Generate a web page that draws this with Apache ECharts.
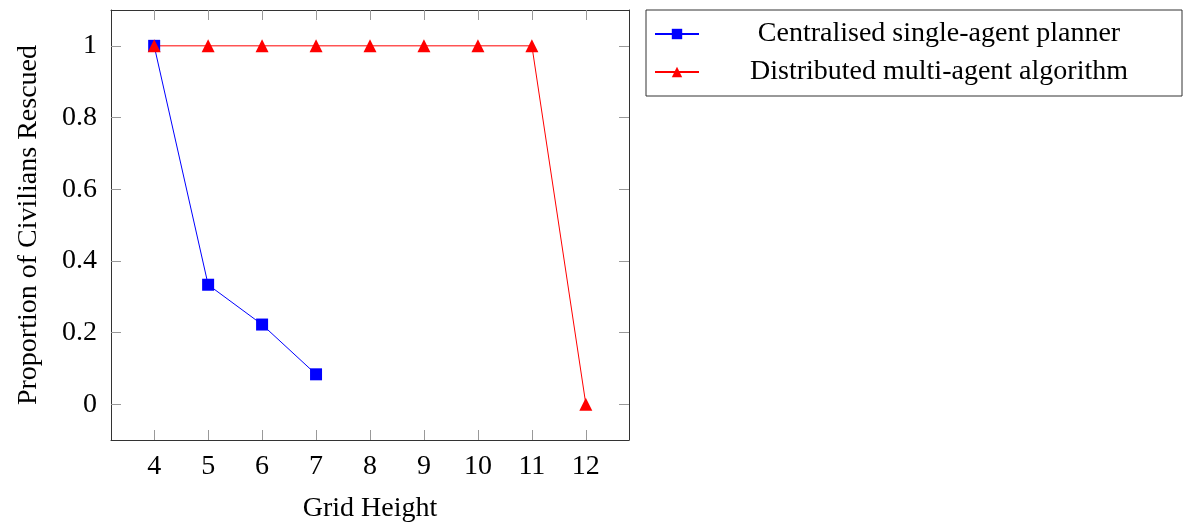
<!DOCTYPE html>
<html>
<head>
<meta charset="utf-8">
<script src="https://cdn.jsdelivr.net/npm/echarts@6/dist/echarts.min.js"></script>
<style>html,body{margin:0;padding:0;background:#fff;}#c{width:1185px;height:523px;}</style>
</head>
<body>
<div id="c"></div>
<script>
const gridHeights = [4, 5, 6, 7, 8, 9, 10, 11, 12];
const centralisedX = [4, 5, 6, 7];
const centralisedY = [1, 0.3333, 0.2222, 0.0833];
const distributedX = [4, 5, 6, 7, 8, 9, 10, 11, 12];
const distributedY = [1, 1, 1, 1, 1, 1, 1, 1, 0];
const yTicks = [0, 0.2, 0.4, 0.6, 0.8, 1];
const seriesNames = ['Centralised single-agent planner', 'Distributed multi-agent algorithm'];
const xTitle = 'Grid Height';
const yTitle = 'Proportion of Civilians Rescued';

const FONT = 'Liberation Serif';
const pair = (xs, ys) => xs.map((x, i) => [x, ys[i]]);
const frame = { show: true, onZero: false, lineStyle: { color: '#333', width: 1 } };
const tick = (show) => ({ show: true, inside: true, length: 10, customValues: show, lineStyle: { color: '#999', width: 1 } });

const chart = echarts.init(document.getElementById('c'), null, { renderer: 'canvas' });
chart.setOption({
  animation: false,
  backgroundColor: '#fff',
  grid: { left: 111, top: 10, right: 556, bottom: 83, containLabel: false, outerBoundsMode: 'none' },
  legend: {
    left: 646, top: 10,
    orient: 'vertical',
    data: seriesNames,
    itemWidth: 44, itemHeight: 13, itemGap: 10,
    padding: [10, 8, 10, 8],
    borderColor: '#333', borderWidth: 1, borderRadius: 0,
    formatter: n => '{c|' + n + '}',
    textStyle: { fontFamily: FONT, fontSize: 28, color: '#000',
      rich: { c: { fontFamily: FONT, fontSize: 28, color: '#000', width: 470, align: 'center', lineHeight: 30 } } }
  },
  xAxis: [
    { type: 'value', min: 3.2, max: 12.8, position: 'bottom',
      name: xTitle, nameLocation: 'middle', nameGap: 55,
      nameTextStyle: { fontFamily: FONT, fontSize: 28, color: '#000' },
      axisLine: frame, axisTick: tick(gridHeights), splitLine: { show: false },
      axisLabel: { customValues: gridHeights, fontFamily: FONT, fontSize: 28, color: '#000', margin: 13 } },
    { type: 'value', min: 3.2, max: 12.8, position: 'top',
      axisLine: frame, axisTick: tick(gridHeights), splitLine: { show: false },
      axisLabel: { show: false } }
  ],
  yAxis: [
    { type: 'value', min: -0.1, max: 1.1, position: 'left',
      name: yTitle, nameLocation: 'middle', nameGap: 68, nameRotate: 90,
      nameTextStyle: { fontFamily: FONT, fontSize: 28, color: '#000' },
      axisLine: frame, axisTick: tick(yTicks), splitLine: { show: false },
      axisLabel: { customValues: yTicks, fontFamily: FONT, fontSize: 28, color: '#000', margin: 14,
        formatter: v => String(Math.round(v * 10) / 10) } },
    { type: 'value', min: -0.1, max: 1.1, position: 'right',
      axisLine: frame, axisTick: tick(yTicks), splitLine: { show: false },
      axisLabel: { show: false } }
  ],
  series: [
    { name: seriesNames[0], type: 'line', data: pair(centralisedX, centralisedY),
      symbol: 'rect', symbolSize: 12, color: '#0000ff',
      lineStyle: { color: '#0000ff', width: 1 }, itemStyle: { color: '#0000ff' } },
    { name: seriesNames[1], type: 'line', data: pair(distributedX, distributedY),
      symbol: 'triangle', symbolSize: 13, color: '#ff0000',
      lineStyle: { color: '#ff0000', width: 1 }, itemStyle: { color: '#ff0000' } }
  ]
});
</script>
</body>
</html>
